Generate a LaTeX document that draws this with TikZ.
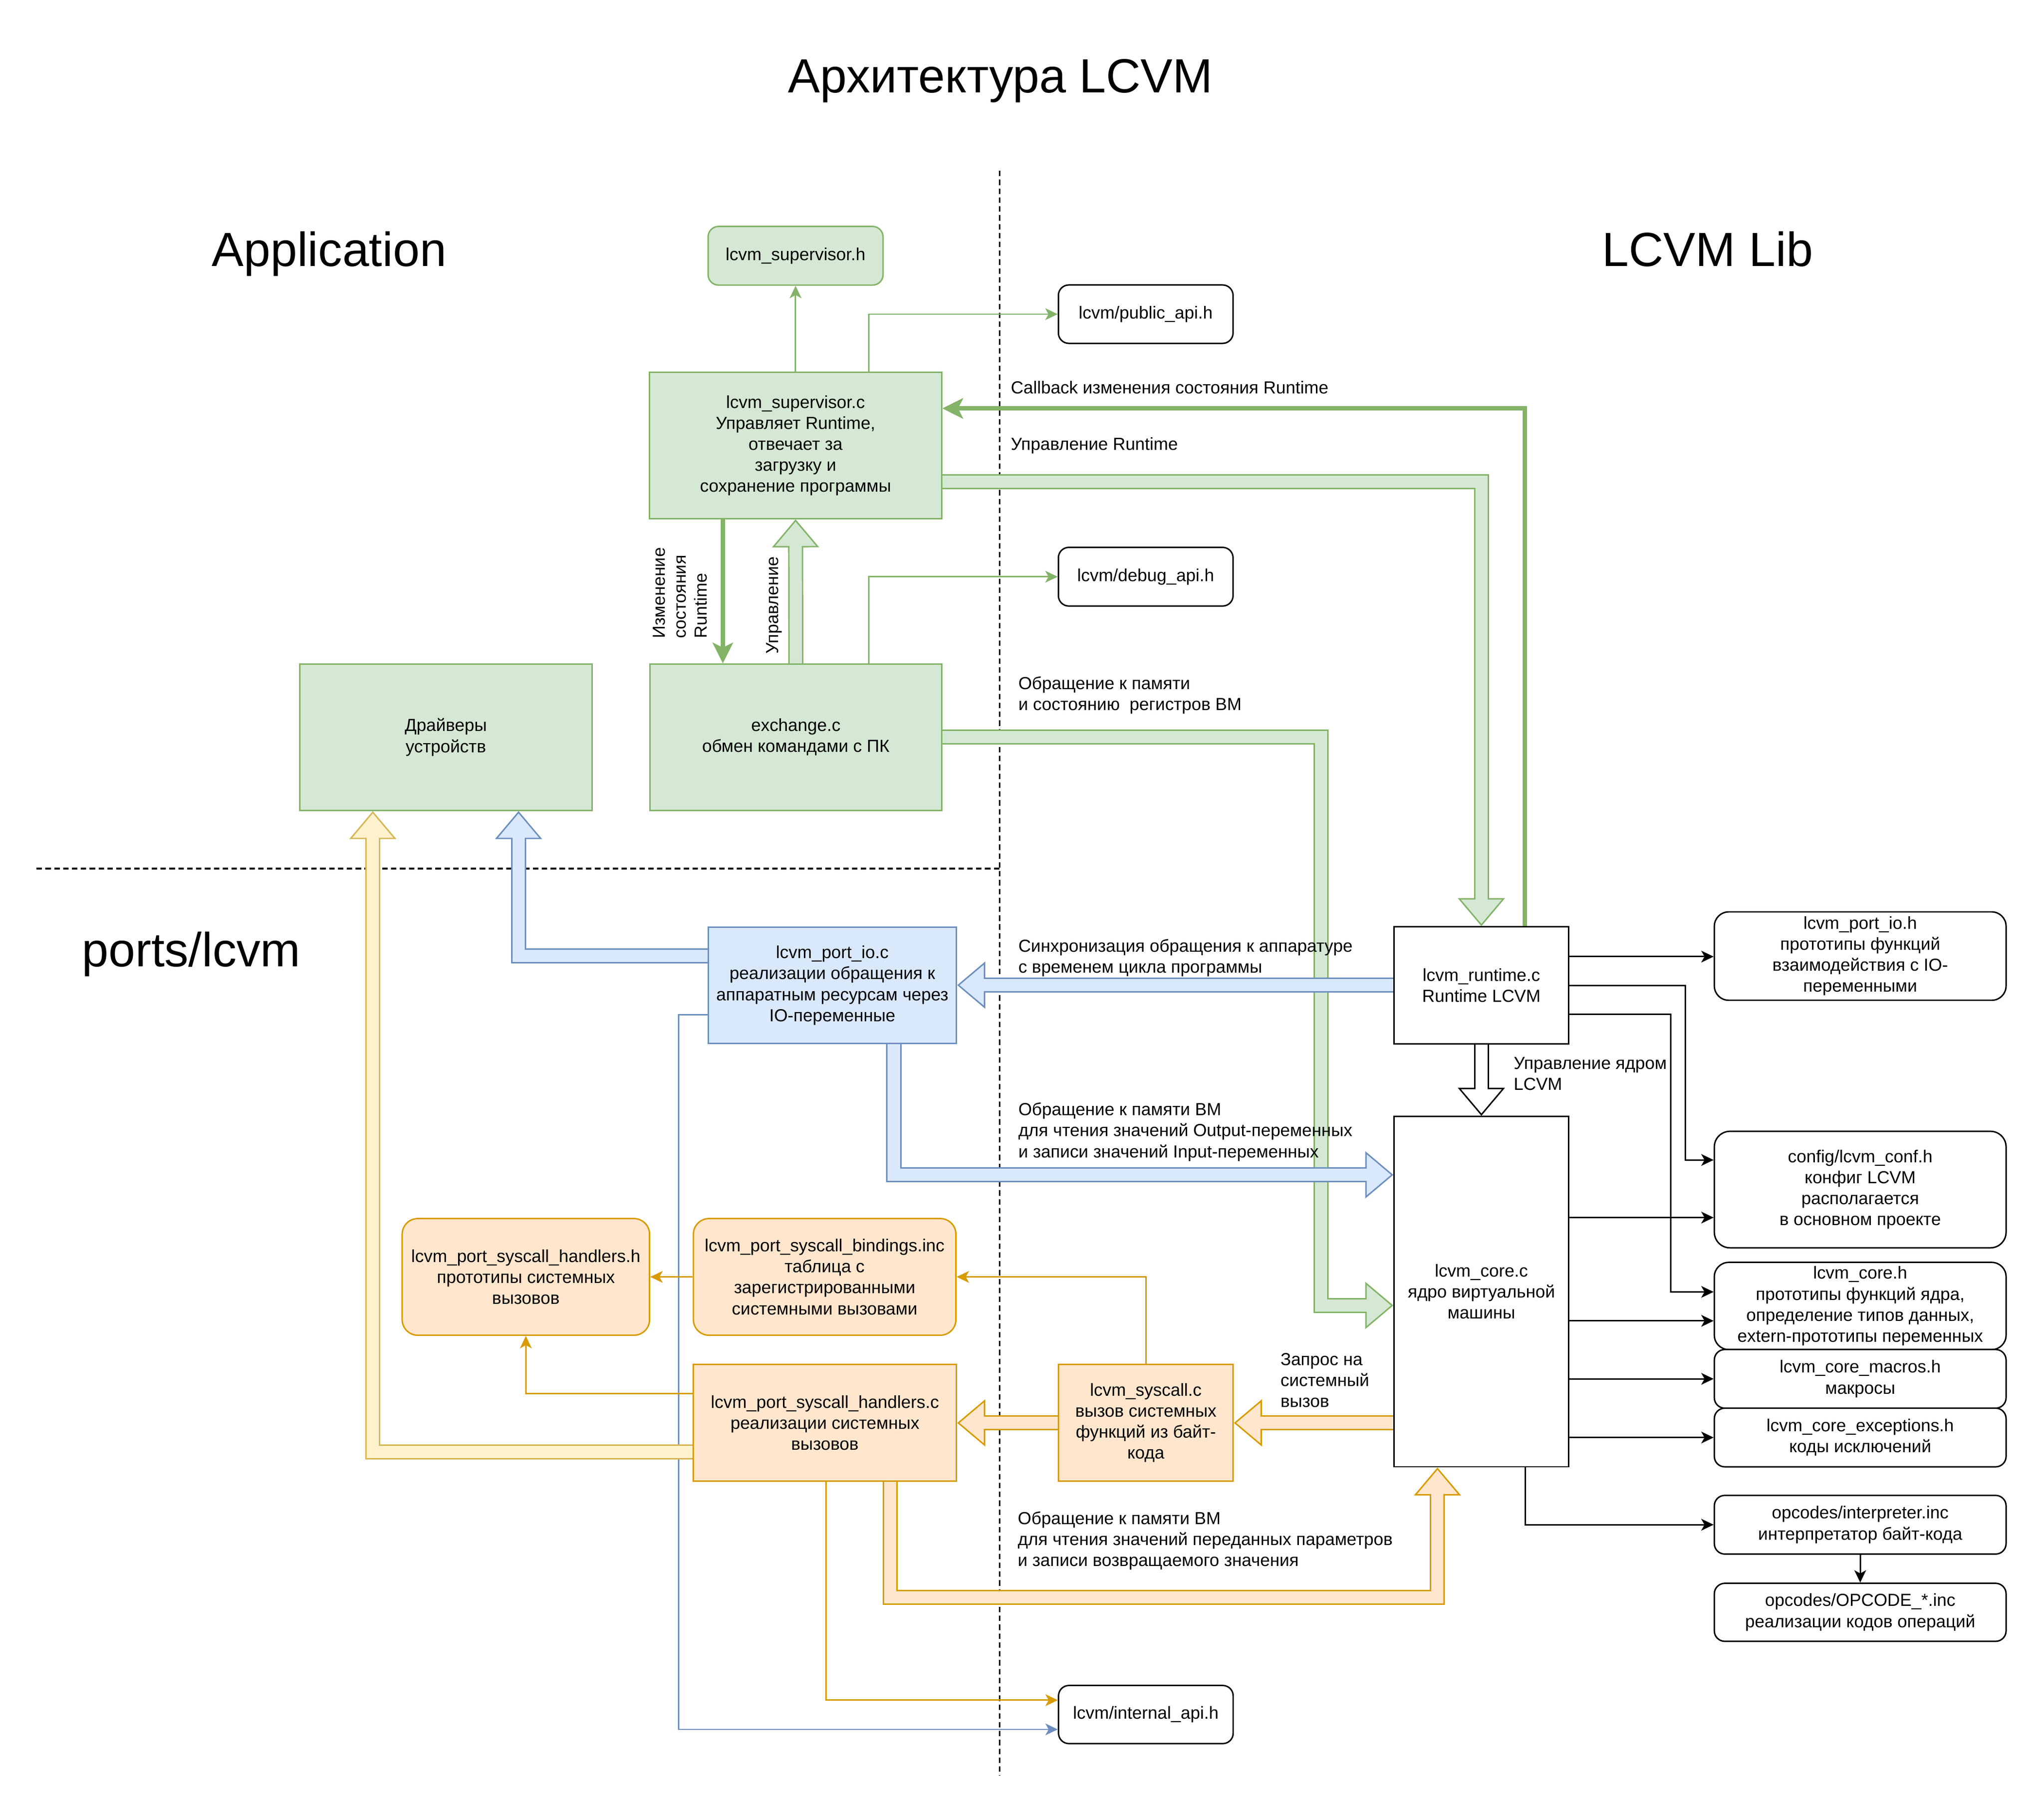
\documentclass[tikz,border=0pt]{standalone}
\usepackage{fontspec}
\setmainfont{Liberation Sans}
\usetikzlibrary{arrows.meta,calc}
\pgfdeclarelayer{arrowlayer}
\pgfsetlayers{arrowlayer,main}
\definecolor{gfill}{HTML}{D5E8D4}
\definecolor{gstroke}{HTML}{82B366}
\definecolor{bfill}{HTML}{DAE8FC}
\definecolor{bstroke}{HTML}{6C8EBF}
\definecolor{ofill}{HTML}{FFE6CC}
\definecolor{ostroke}{HTML}{D79B00}
\definecolor{yfill}{HTML}{FFF2CC}
\definecolor{ystroke}{HTML}{D6B656}
\newcommand{\fsz}{\fontsize{13.4pt}{16.1pt}\selectfont}
\newcommand{\tsz}{\fontsize{36.8pt}{44pt}\selectfont}
\newcommand{\flexarr}[3]{%
  \draw[line width=11.6pt, draw=#1, -{Triangle[length=21.5pt,width=36pt,line width=1.1pt,fill=#2]}] #3;
  \draw[line width=9.4pt, draw=#2, shorten >=19.5pt] #3;
}
\tikzset{
  boxbase/.style={draw, line width=1.1pt, inner sep=0pt, align=center, font=\fsz},
  gbox/.style={boxbase, fill=gfill, draw=gstroke},
  bbox/.style={boxbase, fill=bfill, draw=bstroke},
  obox/.style={boxbase, fill=ofill, draw=ostroke},
  wbox/.style={boxbase, fill=white, draw=black},
  lbl/.style={font=\fsz, inner sep=0pt, align=left},
  ttl/.style={font=\tsz, inner sep=0pt, anchor=base},
  thinln/.style={line width=1.1pt, -{Stealth[length=9.5pt,width=9pt,inset=2.5pt]}},
  thickln/.style={line width=3.3pt, -{Stealth[length=16pt,width=16pt,inset=4pt,line width=0.8pt]}},
  sepline/.style={line width=1.1pt, dash pattern=on 4.2pt off 2.6pt},
}
\begin{document}
\begin{tikzpicture}[x=1pt, y=-1pt, line join=miter]
\useasboundingbox (0,0) rectangle (1568,1392);

% titles
\node[ttl] (title) at (767.5,71) {Архитектура LCVM};
\node[ttl] (app) at (252.5,204.3) {Application};
\node[ttl] (lib) at (1310,204.3) {LCVM Lib};
\node[ttl] (ports) at (146.7,741.4) {ports/lcvm};

% nodes
\node[gbox, rounded corners=8pt, minimum width=134.2pt, minimum height=45pt] (suph) at (610.3,196.2) {lcvm\_supervisor.h};
\node[wbox, rounded corners=8pt, minimum width=134pt, minimum height=44.8pt] (pub) at (878.9,241) {lcvm/public\_api.h};
\node[gbox, minimum width=224.2pt, minimum height=112.1pt] (supc) at (610.3,341.8) {lcvm\_supervisor.c\\Управляет Runtime,\\отвечает за\\загрузку и\\сохранение программы};
\node[wbox, rounded corners=8pt, minimum width=134pt, minimum height=45pt] (dbg) at (878.9,442.4) {lcvm/debug\_api.h};
\node[gbox, minimum width=224.3pt, minimum height=112.3pt] (drv) at (342,565.5) {Драйверы\\устройств};
\node[gbox, minimum width=224pt, minimum height=112.3pt] (exc) at (610.5,565.5) {exchange.c\\обмен командами с ПК};
\node[bbox, minimum width=190.5pt, minimum height=89.1pt] (pio) at (638.5,755.9) {lcvm\_port\_io.c\\реализации обращения к\\аппаратным ресурсам через\\IO-переменные};
\node[wbox, minimum width=134pt, minimum height=89.8pt] (rt) at (1136.4,755.9) {lcvm\_runtime.c\\Runtime LCVM};
\node[wbox, minimum width=134pt, minimum height=268.7pt] (core) at (1136.4,990.8) {lcvm\_core.c\\ядро виртуальной\\машины};

\node[wbox, rounded corners=11pt, minimum width=223.8pt, minimum height=67.8pt] (pioh) at (1427,733.4) {lcvm\_port\_io.h\\прототипы функций\\взаимодействия с IO-\\переменными};
\node[wbox, rounded corners=12pt, minimum width=223.8pt, minimum height=89.4pt] (conf) at (1427,912.5) {config/lcvm\_conf.h\\конфиг LCVM\\располагается\\в основном проекте};
\node[wbox, rounded corners=11pt, minimum width=223.8pt, minimum height=66.9pt] (coreh) at (1427,1001.8) {lcvm\_core.h\\прототипы функций ядра,\\определение типов данных,\\extern-прототипы переменных};
\node[wbox, rounded corners=8pt, minimum width=223.8pt, minimum height=45pt] (macros) at (1427,1057.7) {lcvm\_core\_macros.h\\макросы};
\node[wbox, rounded corners=8pt, minimum width=223.8pt, minimum height=45pt] (exch) at (1427,1102.7) {lcvm\_core\_exceptions.h\\коды исключений};
\node[wbox, rounded corners=8pt, minimum width=223.8pt, minimum height=45pt] (interp) at (1427,1169.6) {opcodes/interpreter.inc\\интерпретатор байт-кода};
\node[wbox, rounded corners=8pt, minimum width=223.8pt, minimum height=44.5pt] (opc) at (1427,1236.8) {opcodes/OPCODE\_*.inc\\реализации кодов операций};

\node[obox, rounded corners=12pt, minimum width=189.8pt, minimum height=89.5pt] (hh) at (403.4,979.5) {lcvm\_port\_syscall\_handlers.h\\прототипы системных\\вызовов};
\node[obox, rounded corners=12pt, minimum width=201.4pt, minimum height=89.5pt] (bind) at (632.6,979.5) {lcvm\_port\_syscall\_bindings.inc\\таблица с\\зарегистрированными\\системными вызовами};
\node[obox, minimum width=201.9pt, minimum height=89.6pt] (hc) at (632.8,1091.4) {lcvm\_port\_syscall\_handlers.c\\реализации системных\\вызовов};
\node[obox, minimum width=134pt, minimum height=89.6pt] (sys) at (879,1091.5) {lcvm\_syscall.c\\вызов системных\\функций из байт-\\кода};
\node[wbox, rounded corners=8pt, minimum width=134pt, minimum height=44.6pt] (intl) at (879,1315.2) {lcvm/internal\_api.h};

% labels
\node[lbl, anchor=west] (lcb) at (775.3,297.2) {Callback изменения состояния Runtime};
\node[lbl, anchor=west] (lur) at (775.3,341.9) {Управление Runtime};
\node[lbl, anchor=west] (lmem) at (781,533.2) {Обращение к памяти\\и состоянию~ регистров ВМ};
\node[lbl, anchor=west] (lsync) at (781,734.7) {Синхронизация обращения к аппаратуре\\с временем цикла программы};
\node[lbl, anchor=west] (lio) at (781,868.3) {Обращение к памяти ВМ\\для чтения значений Output-переменных\\и записи значений Input-переменных};
\node[lbl, anchor=west] (lcore) at (1161,823.5) {Управление ядром\\LCVM};
\node[lbl, anchor=west] (lreq) at (982.1,1058.8) {Запрос на\\системный\\вызов};
\node[lbl, anchor=west] (lpar) at (780.6,1182) {Обращение к памяти ВМ\\для чтения значений переданных параметров\\и записи возвращаемого значения};
\node[lbl, rotate=90, anchor=west] (lchg) at (521.6,489.9) {Изменение\\состояния\\Runtime};
\node[lbl, rotate=90, anchor=west] (lctl) at (593.7,501.7) {Управление};

\coordinate (vtop) at (767,131);
\coordinate (vbot) at (767,1362);
\coordinate (hleft) at (28,666.3);
\coordinate (hright) at (767,666.3);

\begin{pgfonlayer}{arrowlayer}
\fill[white] (0,0) rectangle (1568,1392);
\draw[sepline] (vtop) -- (vbot);
\draw[sepline, line width=1.5pt] (hleft) -- (hright);

% green
\draw[thinln, draw=gstroke] (supc.north) -- (suph.south);
\draw[thinln, draw=gstroke] (supc.north -| 666.4,0) |- (pub.west);
\draw[thinln, draw=gstroke] (exc.north -| 666.4,0) |- (dbg.west);
\flexarr{gstroke}{gfill}{(exc.north) -- (supc.south)}
\flexarr{gstroke}{gfill}{(supc.east |- 0,369.6) -| (rt.north)}
\flexarr{gstroke}{gfill}{(exc.east) -| (1013.3,1001.4) -- (core.west |- 0,1001.4)}
\draw[thickln, draw=gstroke] (supc.south -| 554.5,0) -- (exc.north -| 554.5,0);
\draw[thickln, draw=gstroke] (rt.north -| 1169.7,0) |- (supc.east |- 0,313.3);

% blue
\draw[thinln, draw=bstroke] (pio.west |- 0,778.5) -| (520.7,1326.6) -- (intl.west |- 0,1326.6);
\flexarr{bstroke}{bfill}{(rt.west |- 0,755.7) -- (pio.east |- 0,755.7)}
\flexarr{bstroke}{bfill}{(pio.west |- 0,733.3) -| (drv.south -| 397.8,0)}
\flexarr{bstroke}{bfill}{(pio.south -| 685.7,0) |- (core.west |- 0,901.2)}

% black
\flexarr{black}{white}{(rt.south) -- (core.north)}
\draw[thinln] (rt.east |- 0,733.8) -- (pioh.west |- 0,733.8);
\draw[thinln] (rt.east |- 0,755.9) -| (1292.8,889.8) -- (conf.west |- 0,889.8);
\draw[thinln] (rt.east |- 0,778) -| (1281.8,991) -- (coreh.west |- 0,991);
\draw[thinln] (core.east |- 0,934) -- (conf.west |- 0,934);
\draw[thinln] (core.east |- 0,1013.2) -- (coreh.west |- 0,1013.2);
\draw[thinln] (core.east |- 0,1057.7) -- (macros.west);
\draw[thinln] (core.east |- 0,1102.7) -- (exch.west);
\draw[thinln] (core.south -| 1170,0) |- (interp.west);
\draw[thinln] (interp.south) -- (opc.north);

% orange / yellow
\flexarr{ystroke}{yfill}{(hc.west |- 0,1113.8) -| (drv.south -| 286,0)}
\draw[thinln, draw=ostroke] (sys.north) |- (bind.east);
\draw[thinln, draw=ostroke] (bind.west) -- (hh.east);
\draw[thinln, draw=ostroke] (hc.west |- 0,1069) -| (hh.south);
\draw[thinln, draw=ostroke] (hc.south -| 633.5,0) |- (intl.west |- 0,1304.2);
\flexarr{ostroke}{ofill}{(core.west |- 0,1091.5) -- (sys.east)}
\flexarr{ostroke}{ofill}{(sys.west) -- (hc.east |- 0,1091.5)}
\flexarr{ostroke}{ofill}{(hc.south -| 683,0) |- (1102.7,1225.2) -- (core.south -| 1102.7,0)}
\end{pgfonlayer}
\end{tikzpicture}
\end{document}
